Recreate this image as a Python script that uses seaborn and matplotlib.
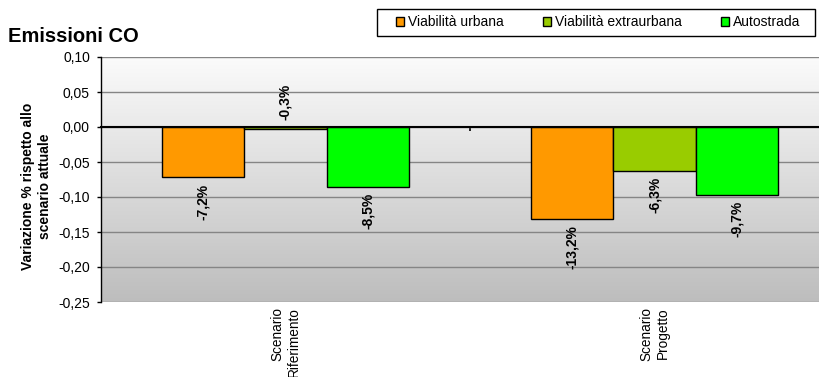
import numpy as np
import pandas as pd
import matplotlib
matplotlib.use("Agg")
import matplotlib.pyplot as plt
import seaborn as sns
from matplotlib.patches import Patch, Rectangle
from matplotlib.ticker import FuncFormatter
from matplotlib.colors import LinearSegmentedColormap

# ---- data ----
scenarios = ["Scenario\nRiferimento", "Scenario\nProgetto"]
series = ["Viabilità urbana", "Viabilità extraurbana", "Autostrada"]
urbana = [-0.072, -0.132]
extraurbana = [-0.003, -0.063]
autostrada = [-0.085, -0.097]
colors = ["#FF9900", "#99CC00", "#00FF00"]
yticks = [0.10, 0.05, 0.00, -0.05, -0.10, -0.15, -0.20, -0.25]

values_by_series = [urbana, extraurbana, autostrada]
rows = []
for s, vals in zip(series, values_by_series):
    for sc, v in zip(scenarios, vals):
        rows.append({"scenario": sc, "tipo": s, "val": v})
df = pd.DataFrame(rows)

plt.rcParams["font.family"] = ["Liberation Sans", "DejaVu Sans"]
plt.rcParams["font.size"] = 10

W, H = 819, 377
fig = plt.figure(figsize=(W / 100, H / 100), dpi=100)
ax = fig.add_axes([101 / W, 1 - 302 / H, 738 / W, 245 / H])

# gradient background
grad = np.linspace(0, 1, 256).reshape(-1, 1)
cmap = LinearSegmentedColormap.from_list("bg", ["#FBFBFB", "#BDBDBD"])
ax.imshow(grad, cmap=cmap, aspect="auto", extent=[0, 1, 0, 1],
          transform=ax.transAxes, zorder=0, origin="upper")

sns.barplot(data=df, x="scenario", y="val", hue="tipo", order=scenarios,
            hue_order=series, palette=dict(zip(series, colors)),
            saturation=1, width=0.667, edgecolor="black", linewidth=1,
            errorbar=None, legend=False, ax=ax, zorder=2)

ax.set_xlim(-0.5, 1.5)
ax.set_ylim(-0.25, 0.10)
ax.set_yticks(yticks)
ax.yaxis.set_major_formatter(FuncFormatter(lambda v, p: f"{v:.2f}".replace(".", ",")))
ax.grid(axis="y", color="#858585", linewidth=1)
ax.grid(axis="x", visible=False)
ax.set_axisbelow(True)
for g in ax.get_ygridlines():
    g.set_zorder(1)

ax.spines["top"].set_visible(False)
ax.spines["right"].set_visible(False)
ax.spines["left"].set_color("black")
ax.spines["left"].set_linewidth(1)
ax.spines["bottom"].set_position(("data", 0))
ax.spines["bottom"].set_color("black")
ax.spines["bottom"].set_linewidth(1.5)
ax.spines["bottom"].set_zorder(3)
ax.set_xticks([0.5])
ax.set_xticklabels([""])
ax.tick_params(axis="x", direction="out", length=3, width=1.2, color="black")
ax.tick_params(axis="y", direction="out", length=3, width=1, color="black",
               pad=5, labelsize=10)
ax.set_xlabel("")
ax.set_ylabel("")

# category labels
for i, sc in enumerate(scenarios):
    ax.annotate(sc, xy=(i, 0), xycoords=ax.get_xaxis_transform(),
                xytext=(0, -5), textcoords="offset pixels", rotation=90,
                ha="center", va="top", multialignment="right", fontsize=9.8,
                annotation_clip=False)

# data labels
for cont, vals in zip(ax.containers, values_by_series):
    for bar, v in zip(cont.patches, vals):
        xc = bar.get_x() + bar.get_width() / 2
        txt = f"{v * 100:.1f}%".replace(".", ",")
        if abs(v) < 0.01:
            ax.annotate(txt, xy=(xc, 0), xytext=(0, 7), textcoords="offset pixels",
                        rotation=90, ha="center", va="bottom", fontsize=10,
                        fontweight="bold", zorder=5)
        else:
            ax.annotate(txt, xy=(xc, v), xytext=(0, -6), textcoords="offset pixels",
                        rotation=90, ha="center", va="top", fontsize=10,
                        fontweight="bold", zorder=5)

# title and y label
fig.text(8 / W, 1 - 42 / H, "Emissioni CO", fontsize=14.5, fontweight="bold",
         ha="left", va="baseline")
fig.text(36.5 / W, 1 - 186 / H, "Variazione % rispetto allo\nscenario attuale",
         rotation=90, ha="center", va="center", multialignment="center",
         fontsize=10, fontweight="bold")

# legend
handles = [Patch(facecolor=c, edgecolor="black", linewidth=1) for c in colors]
fig.add_artist(Rectangle((377 / W, 1 - 36 / H), 438 / W, 27 / H,
                         transform=fig.transFigure, fill=False,
                         edgecolor="black", linewidth=1))
fig.legend(handles, series, loc="center left",
           bbox_to_anchor=(396 / W, 1 - 22.5 / H), ncol=3, frameon=False,
           borderpad=0, borderaxespad=0, handlelength=0.55, handleheight=0.55,
           handletextpad=0.3, columnspacing=2.85, fontsize=10)

fig.savefig("out.png", dpi=100)
